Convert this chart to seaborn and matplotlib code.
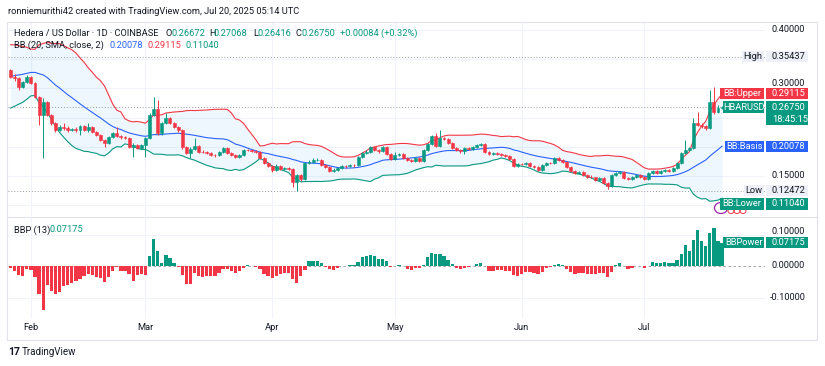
import numpy as np
import pandas as pd
import seaborn as sns
import matplotlib.pyplot as plt
import matplotlib.dates as mdates
from matplotlib.patches import Rectangle, Ellipse
from matplotlib.lines import Line2D

# ---- HBARUSD 1D (Coinbase) ----
# closes before the first visible candle, only used to warm up BB(20) and EMA(13)
warmup_close = [0.290, 0.282, 0.288, 0.285, 0.280, 0.283, 0.300, 0.318, 0.345, 0.368,
                0.356, 0.338, 0.347, 0.342, 0.330, 0.336, 0.340, 0.332, 0.3315]

first_day = '2025-01-27'
last_day = '2025-07-20'

close = [0.3195, 0.3178, 0.3024, 0.3110, 0.3195, 0.3092, 0.2853, 0.2545, 0.2767, 0.2545,
         0.2408, 0.2288, 0.2339, 0.2322, 0.2288, 0.2305, 0.2288, 0.2356, 0.2288, 0.2339,
         0.2253, 0.2202, 0.2116, 0.2065, 0.2168, 0.2236, 0.2185, 0.2168, 0.2151, 0.1997,
         0.2031, 0.1979, 0.2031, 0.2151, 0.2545, 0.2647, 0.2236, 0.2408, 0.2493, 0.2408,
         0.2339, 0.2288, 0.1997, 0.1894, 0.1962, 0.2014, 0.1911, 0.1905, 0.1894, 0.1860,
         0.1855, 0.1911, 0.1979, 0.1894, 0.1860, 0.1825, 0.1860, 0.1945, 0.1940, 0.1928,
         0.1911, 0.1808, 0.1723, 0.1671, 0.1603, 0.1671, 0.1620, 0.1637, 0.1620, 0.1397,
         0.1517, 0.1449, 0.1723, 0.1740, 0.1774, 0.1780, 0.1688, 0.1654, 0.1586, 0.1603,
         0.1637, 0.1671, 0.1665, 0.1688, 0.1682, 0.1825, 0.1894, 0.1911, 0.1997, 0.1945,
         0.1928, 0.1997, 0.1877, 0.1791, 0.1860, 0.1877, 0.1808, 0.1774, 0.1757, 0.1808,
         0.1757, 0.1945, 0.2048, 0.2185, 0.2014, 0.2151, 0.2134, 0.2065, 0.1979, 0.1945,
         0.1928, 0.1979, 0.1962, 0.1997, 0.2031, 0.2048, 0.1911, 0.1877, 0.1894, 0.1877,
         0.1860, 0.1842, 0.1791, 0.1671, 0.1705, 0.1700, 0.1723, 0.1671, 0.1654, 0.1603,
         0.1688, 0.1723, 0.1715, 0.1808, 0.1774, 0.1740, 0.1654, 0.1586, 0.1551, 0.1568,
         0.1517, 0.1483, 0.1478, 0.1432, 0.1466, 0.1380, 0.1329, 0.1517, 0.1551, 0.1568,
         0.1466, 0.1449, 0.1483, 0.1517, 0.1483, 0.1449, 0.1551, 0.1586, 0.1551, 0.1586,
         0.1603, 0.1586, 0.1637, 0.1723, 0.1894, 0.1945, 0.1979, 0.2408, 0.2373, 0.2356,
         0.2322, 0.2767, 0.2596, 0.26672, 0.26750]

high = [0.3340, 0.3240, 0.3200, 0.3130, 0.3230, 0.3210, 0.3110, 0.2870, 0.2836, 0.2790,
        0.2560, 0.2430, 0.2370, 0.2400, 0.2350, 0.2330, 0.2340, 0.2380, 0.2370, 0.2400,
        0.2350, 0.2270, 0.2220, 0.2130, 0.2190, 0.2250, 0.2339, 0.2210, 0.2190, 0.2170,
        0.2060, 0.2050, 0.2050, 0.2170, 0.2580, 0.2853, 0.2801, 0.2430, 0.2579, 0.2510,
        0.2420, 0.2360, 0.2300, 0.2010, 0.1990, 0.2151, 0.2030, 0.1940, 0.1930, 0.1910,
        0.1880, 0.1930, 0.2000, 0.1990, 0.1910, 0.1870, 0.1880, 0.1960, 0.1970, 0.1960,
        0.1945, 0.1930, 0.1830, 0.1740, 0.1690, 0.1700, 0.1690, 0.1660, 0.1660, 0.1640,
        0.1540, 0.1540, 0.1740, 0.1774, 0.1800, 0.1800, 0.1790, 0.1700, 0.1670, 0.1630,
        0.1650, 0.1690, 0.1690, 0.1700, 0.1710, 0.1840, 0.1910, 0.1940, 0.2014, 0.2014,
        0.1960, 0.2014, 0.2010, 0.1890, 0.1911, 0.1900, 0.1890, 0.1820, 0.1790, 0.1830,
        0.1820, 0.1960, 0.2070, 0.2200, 0.2236, 0.2288, 0.2170, 0.2150, 0.2080, 0.1990,
        0.1960, 0.2000, 0.1990, 0.2010, 0.2050, 0.2070, 0.2060, 0.1920, 0.1910, 0.1910,
        0.1890, 0.1870, 0.1860, 0.1800, 0.1720, 0.1730, 0.1740, 0.1740, 0.1690, 0.1670,
        0.1700, 0.1740, 0.1740, 0.1830, 0.1820, 0.1790, 0.1750, 0.1670, 0.1600, 0.1590,
        0.1580, 0.1530, 0.1510, 0.1490, 0.1490, 0.1480, 0.1390, 0.1530, 0.1570, 0.1590,
        0.1580, 0.1480, 0.1500, 0.1540, 0.1530, 0.1500, 0.1570, 0.1600, 0.1600, 0.1600,
        0.1620, 0.1620, 0.1650, 0.1740, 0.1910, 0.2116, 0.2000, 0.2493, 0.2596, 0.2400,
        0.2380, 0.2973, 0.3024, 0.2720, 0.27068]

low = [0.3170, 0.3130, 0.2973, 0.3000, 0.3090, 0.3070, 0.2830, 0.2373, 0.1808, 0.2520,
       0.2380, 0.2260, 0.2270, 0.2290, 0.2260, 0.2270, 0.2250, 0.2202, 0.2270, 0.2260,
       0.2230, 0.2180, 0.2100, 0.1997, 0.2050, 0.2150, 0.2170, 0.2140, 0.2130, 0.1980,
       0.1825, 0.1960, 0.1960, 0.1825, 0.2130, 0.2520, 0.2200, 0.2210, 0.2390, 0.2390,
       0.2320, 0.2260, 0.1970, 0.1870, 0.1808, 0.1940, 0.1890, 0.1890, 0.1870, 0.1840,
       0.1830, 0.1840, 0.1890, 0.1870, 0.1840, 0.1800, 0.1810, 0.1840, 0.1920, 0.1910,
       0.1890, 0.1790, 0.1700, 0.1650, 0.1568, 0.1590, 0.1600, 0.1610, 0.1600, 0.1312,
       0.12472, 0.1420, 0.1430, 0.1700, 0.1720, 0.1750, 0.1670, 0.1630, 0.1570, 0.1570,
       0.1590, 0.1620, 0.1640, 0.1650, 0.1660, 0.1670, 0.1800, 0.1870, 0.1890, 0.1920,
       0.1900, 0.1910, 0.1860, 0.1770, 0.1780, 0.1840, 0.1790, 0.1750, 0.1740, 0.1740,
       0.1740, 0.1740, 0.1930, 0.2030, 0.1990, 0.1990, 0.2110, 0.2040, 0.1960, 0.1920,
       0.1900, 0.1877, 0.1940, 0.1950, 0.1980, 0.2010, 0.1890, 0.1860, 0.1860, 0.1860,
       0.1840, 0.1820, 0.1770, 0.1650, 0.1650, 0.1680, 0.1680, 0.1650, 0.1630, 0.1580,
       0.1586, 0.1670, 0.1700, 0.1700, 0.1750, 0.1720, 0.1630, 0.1560, 0.1530, 0.1540,
       0.1500, 0.1460, 0.1460, 0.1410, 0.1420, 0.1360, 0.1277, 0.1310, 0.1500, 0.1540,
       0.1450, 0.1430, 0.1430, 0.1470, 0.1460, 0.1430, 0.1440, 0.1540, 0.1540, 0.1540,
       0.1570, 0.1570, 0.1570, 0.1620, 0.1710, 0.1880, 0.1920, 0.1960, 0.2350, 0.2330,
       0.2288, 0.2310, 0.2570, 0.2580, 0.26416]

# a crypto daily candle opens at the previous close
opens = [warmup_close[-1]] + close[:-1]

price_labels = ['0.40000', '0.30000', '0.15000']
price_label_vals = [0.40, 0.30, 0.15]
bbp_labels = ['0.10000', '0.00000', '-0.10000']
bbp_label_vals = [0.10, 0.0, -0.10]
range_high = 0.35437
range_low = 0.12472
months = ['Feb', 'Mar', 'Apr', 'May', 'Jun', 'Jul']
month_starts = ['2025-02-01', '2025-03-01', '2025-04-01', '2025-05-01', '2025-06-01', '2025-07-01']

UP = '#089981'
DOWN = '#F23645'
BLUE = '#2962FF'
TXT = '#131722'
GRID = '#F0F3FA'
FRAME = '#E0E3EB'
FS = 6.7

sns.set_theme(style='white')
plt.rcParams['font.family'] = ['Roboto', 'DejaVu Sans']

# ---- indicators: BB(20, SMA, close, 2) and Bull Bear Power(13) ----
all_close = pd.Series(warmup_close + close)
n0 = len(warmup_close)
basis = all_close.rolling(20).mean()
dev = all_close.rolling(20).std(ddof=0)
upper = (basis + 2 * dev).values[n0:]
lower = (basis - 2 * dev).values[n0:]
basis = basis.values[n0:]
ema13 = all_close.ewm(span=13, adjust=False).mean().values[n0:]

o = np.array(opens)
c = np.array(close)
hi = np.array(high)
lo = np.array(low)
bbp = hi + lo - 2 * ema13

dates = pd.date_range(first_day, last_day, freq='D')
xs = mdates.date2num(dates)
bands = pd.DataFrame({'x': xs, 'upper': upper, 'basis': basis, 'lower': lower})

# ---- figure in pixel layout ----
W, H = 825, 366
fig = plt.figure(figsize=(W / 100, H / 100), dpi=100)
fig.patch.set_facecolor('white')


def fx(x):
    return x / W


def fy(y):
    return 1 - y / H


L, R = 8, 765
ax = fig.add_axes([fx(L), fy(216), fx(R) - fx(L), fy(22) - fy(216)])
ax2 = fig.add_axes([fx(L), fy(318), fx(R) - fx(L), fy(218) - fy(318)])

xmin = xs[0] - 0.6
xmax = xmin + (R - L) / 4.09
for a in (ax, ax2):
    a.set_xlim(xmin, xmax)
    a.set_facecolor('white')
    for s in a.spines.values():
        s.set_visible(False)
    a.set_xticks([])
    a.set_yticks([])
    for m in month_starts:
        a.axvline(mdates.date2num(pd.Timestamp(m)), color=GRID, lw=0.8, zorder=0)

ax.set_ylim(0.40 - 186 / 584, 0.40 + 8 / 584)
ax2.set_ylim(-52 / 315, 48 / 315)

for v in [0.10, 0.15, 0.20, 0.25, 0.30, 0.35, 0.40]:
    ax.axhline(v, color=GRID, lw=0.8, zorder=0)
for v in [0.10, -0.10]:
    ax2.axhline(v, color=GRID, lw=0.8, zorder=0)

# bands
ax.fill_between(xs, lower, upper, color='#2196F3', alpha=0.07, lw=0, zorder=1)
sns.lineplot(data=bands, x='x', y='upper', ax=ax, color=DOWN, lw=0.8, zorder=2)
sns.lineplot(data=bands, x='x', y='basis', ax=ax, color=BLUE, lw=0.8, zorder=2)
sns.lineplot(data=bands, x='x', y='lower', ax=ax, color=UP, lw=0.8, zorder=2)

# range high / low and last price lines
for v in (range_high, range_low):
    ax.axhline(v, color='#9598A1', lw=0.7, ls=(0, (1, 2)), zorder=1)
ax.axhline(c[-1], color='#9598A1', lw=0.7, ls=(0, (1, 2)), zorder=1)

# candles
col = np.where(c >= o, UP, DOWN)
ax.vlines(xs, lo, hi, colors=col, lw=0.7, zorder=3)
ax.bar(xs, np.abs(c - o), bottom=np.minimum(o, c), width=0.72, color=col,
       edgecolor=col, lw=0.4, zorder=4)

# BBP histogram
ax2.axhline(0, color='#9598A1', lw=0.6, ls=(0, (3, 3)), zorder=0)
ax2.bar(xs, bbp, width=0.8, color=np.where(bbp >= 0, UP, DOWN), lw=0, zorder=2)

for a in (ax, ax2):
    a.set_xlabel('')
    a.set_ylabel('')
    a.set_xlim(xmin, xmax)

# month labels
for m, lab in zip(month_starts, months):
    ax2.text(mdates.date2num(pd.Timestamp(m)), -0.10, lab, transform=ax2.get_xaxis_transform(),
             ha='center', va='center', fontsize=FS, color=TXT)


# ---- texts & tags around the panes ----
def txt(x, y, s, color=TXT, ha='left', z=6, **kw):
    fig.text(fx(x), fy(y), s, color=color, ha=ha, va='center', fontsize=FS, zorder=z, **kw)


def box(x0, x1, y0, y1, color, z=5):
    fig.add_artist(Rectangle((fx(x0), fy(y1)), fx(x1) - fx(x0), fy(y0) - fy(y1),
                             transform=fig.transFigure, facecolor=color, edgecolor='none', zorder=z))


def price_y(v):
    return 30 + (0.40 - v) * 584


def bbp_y(v):
    return 266 - v * 315


# frame
fig.add_artist(Rectangle((fx(7), fy(340)), fx(817) - fx(7), fy(22) - fy(340), transform=fig.transFigure,
                         facecolor='none', edgecolor=FRAME, lw=0.8, zorder=7))
fig.add_artist(Line2D([fx(7), fx(817)], [fy(217), fy(217)], color=FRAME, lw=0.8, zorder=7))

txt(8, 12, "ronniemurithi42 created with TradingView.com, Jul 20, 2025 05:14 UTC")

txt(14, 33, "Hedera / US Dollar · 1D · COINBASE")
for x, lab, val in [(166, 'O', '0.26672'), (209, 'H', '0.27068'), (253, 'L', '0.26416'), (296, 'C', '0.26750')]:
    txt(x, 33, lab)
    txt(x + 5, 33, val, color=UP)
txt(340, 33, "+0.00084 (+0.32%)", color=UP)

txt(14, 45, "BB (20, SMA, close, 2)")
txt(110, 45, "0.20078", color=BLUE)
txt(148, 45, "0.29115", color=DOWN)
txt(185, 45, "0.11040", color=UP)

txt(14, 230, "BBP (13)")
txt(49, 230, "0.07175", color=UP)

# price scale (0.30000 sits just above the BB:Upper tag, as in the original)
for lab, v in zip(price_labels, price_label_vals):
    y = price_y(v) if v != 0.30 else 83.5
    txt(772, y, lab, z=4)

# user drawing near the lower band
fig.add_artist(Ellipse((fx(721), fy(208)), fx(13), 11 / H, transform=fig.transFigure,
                       facecolor='none', edgecolor='#9C27B0', lw=0.9, zorder=4))
for ex in (731, 737, 743):
    fig.add_artist(Ellipse((fx(ex), fy(211)), fx(6), 5 / H, transform=fig.transFigure,
                           facecolor='none', edgecolor=DOWN, lw=0.7, zorder=4))

LIGHT = '#EDF1F7'
box(742, 764, 51, 62, LIGHT)
txt(753, 56.5, 'High', ha='center')
box(766, 808, 51, 62, LIGHT)
txt(772, 56.5, '0.35437')

box(720, 764, 88, 99, DOWN)
txt(742, 93.5, 'BB:Upper', color='white', ha='center')
box(766, 808, 88, 99, DOWN)
txt(772, 93.5, '0.29115', color='white')

box(723, 764, 101, 113, UP)
txt(743.5, 107, 'HBARUSD', color='white', ha='center')
box(766, 808, 101, 125, UP)
txt(772, 107, '0.26750', color='white')
txt(772, 119.5, '18:45:15', color='white')

box(725, 764, 141, 152, BLUE)
txt(744.5, 146.5, 'BB:Basis', color='white', ha='center')
box(766, 808, 141, 152, BLUE)
txt(772, 146.5, '0.20078', color='white')

box(744, 764, 185, 196, LIGHT)
txt(754, 190.5, 'Low', ha='center')
box(766, 808, 185, 196, LIGHT)
txt(772, 190.5, '0.12472')

box(720, 764, 198, 210, UP)
txt(742, 204, 'BB:Lower', color='white', ha='center')
box(766, 808, 198, 210, UP)
txt(772, 204, '0.11040', color='white')

# BBP scale
for lab, v in zip(bbp_labels, bbp_label_vals):
    y = bbp_y(v) if v != 0.10 else 232
    txt(772 if v >= 0 else 770, y, lab, z=4)
box(723, 764, 237, 248, UP)
txt(743.5, 242.5, 'BBPower', color='white', ha='center')
box(766, 808, 237, 248, UP)
txt(772, 242.5, '0.07175', color='white')

# footer logo
fig.text(fx(8), fy(352), '17', fontsize=7.5, fontweight='bold', color=TXT, va='center')
fig.text(fx(22), fy(352), 'TradingView', fontsize=7, color=TXT, va='center')

fig.savefig('out.png', dpi=100, facecolor='white')
